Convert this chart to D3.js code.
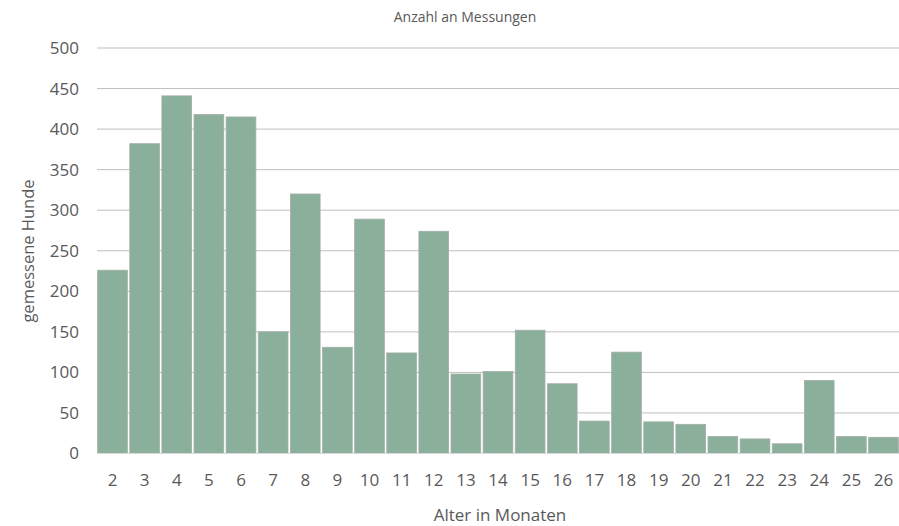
<!DOCTYPE html>
<html>
<head>
<meta charset="utf-8">
<script src="https://cdn.jsdelivr.net/npm/d3@7"></script>
<style>
body { margin: 0; background: #fff; }
text { font-family: "Open Sans", sans-serif; fill: #595959; }
</style>
</head>
<body>
<svg width="899" height="526"></svg>
<script>
var months = ["2","3","4","5","6","7","8","9","10","11","12","13","14","15","16","17","18","19","20","21","22","23","24","25","26"];
var counts = [226, 382, 441, 418, 415, 150, 320, 131, 289, 124, 274, 98, 101, 152, 86, 40, 125, 39, 36, 21, 18, 12, 90, 21, 20];
var yTicks = [0, 50, 100, 150, 200, 250, 300, 350, 400, 450, 500];

var data = months.map(function (m, i) { return { month: m, value: counts[i] }; });

var svg = d3.select("svg"),
plotLeft = 97,
plotRight = 899,
plotTop = 48,
plotBottom = 453.5;

var xScale = d3.scaleBand().domain(months).range([plotLeft, plotRight]).paddingInner(0.075).paddingOuter(0.02),
yScale = d3.scaleLinear().domain([0, 500]).range([plotBottom, plotTop]);

// gridlines
svg.append("g")
.selectAll("line")
.data(yTicks.slice(1))
.enter().append("line")
.attr("x1", plotLeft)
.attr("x2", plotRight)
.attr("y1", function (d) { return yScale(d); })
.attr("y2", function (d) { return yScale(d); })
.attr("stroke", "#bfbfbf")
.attr("stroke-width", 1);

// bars
svg.selectAll(".bar")
.data(data)
.enter().append("rect")
.attr("class", "bar")
.attr("x", function (d) { return xScale(d.month); })
.attr("y", function (d) { return yScale(d.value); })
.attr("width", xScale.bandwidth())
.attr("height", function (d) { return plotBottom - yScale(d.value); })
.attr("fill", "#8ab09b")
.attr("stroke", "#a3aea7")
.attr("stroke-width", 0.8);

// baseline
svg.append("line")
.attr("x1", plotLeft).attr("x2", plotRight)
.attr("y1", plotBottom).attr("y2", plotBottom)
.attr("stroke", "#d9d9d9")
.attr("stroke-width", 1);

// y axis labels
var yAxis = svg.append("g")
.attr("transform", "translate(" + 79 + ",0)")
.call(d3.axisLeft(yScale).tickValues(yTicks).tickSize(0).tickPadding(0));
yAxis.select(".domain").remove();
yAxis.selectAll("text").style("font-size", "17px").style("font-family", "Open Sans").attr("fill", "#595959");

// x axis labels
var xAxis = svg.append("g")
.attr("transform", "translate(0," + 474 + ")")
.call(d3.axisBottom(xScale).tickSize(0).tickPadding(0));
xAxis.select(".domain").remove();
xAxis.selectAll("text").style("font-size", "17px").style("font-family", "Open Sans").attr("fill", "#595959");

// titles
svg.append("text")
.attr("x", 465).attr("y", 22)
.attr("text-anchor", "middle")
.style("font-size", "14px")
.text("Anzahl an Messungen");

svg.append("text")
.attr("x", 500).attr("y", 521)
.attr("text-anchor", "middle")
.style("font-size", "17px")
.text("Alter in Monaten");

svg.append("text")
.attr("transform", "translate(34,251) rotate(-90)")
.attr("text-anchor", "middle")
.style("font-size", "16.5px")
.text("gemessene Hunde");
</script>
</body>
</html>
